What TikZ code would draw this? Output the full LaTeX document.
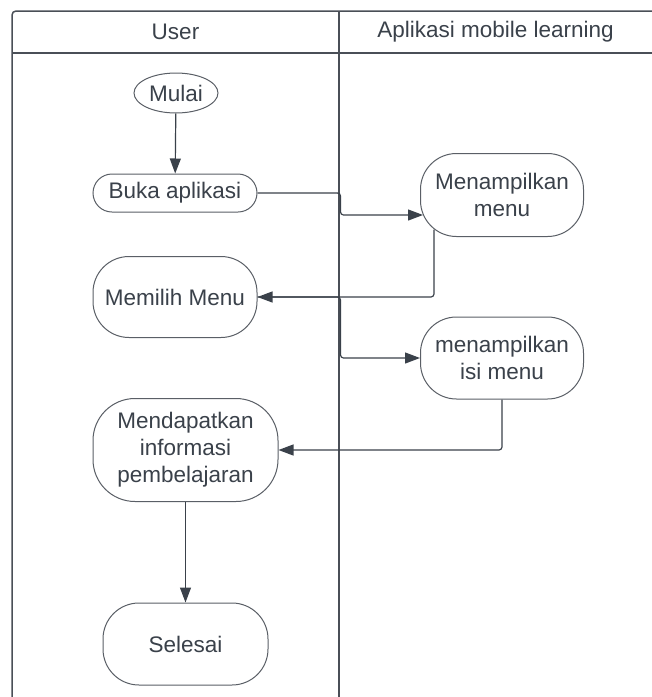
\documentclass[tikz,border=0pt]{standalone}
\usepackage{fontspec}
\setmainfont{Liberation Sans}
\usepackage{xcolor}
\usepackage{tikz}
\usetikzlibrary{shapes.geometric,arrows.meta}
\definecolor{laneline}{HTML}{4A4F57}
\definecolor{boxline}{HTML}{5A5F66}
\definecolor{inkgray}{HTML}{3A414A}

\begin{document}
\begin{tikzpicture}[
    x=1pt, y=-1pt,
    font=\fontsize{22.5}{27}\selectfont\color{inkgray},
    lane/.style={draw=laneline, line width=1.5pt},
    start/.style={ellipse, draw=boxline, line width=1pt, fill=white, inner sep=0pt, minimum width=84pt, minimum height=40pt},
    pill/.style={rectangle, rounded corners=19pt, draw=boxline, line width=1pt, fill=white, inner sep=0pt, minimum width=164pt, minimum height=38pt, align=center},
    act/.style={rectangle, rounded corners=36pt, draw=boxline, line width=1pt, fill=white, inner sep=0pt, minimum width=164pt, minimum height=81pt, align=center},
    arrow/.style={-{Triangle[length=15pt,width=11pt]}, draw=inkgray, line width=1.2pt, rounded corners=3pt}
]
    \useasboundingbox (0,0) rectangle (652,697);

    % Swimlanes
    \draw[lane, rounded corners=4pt] (12,697) |- (652,11);
    \draw[lane] (12,53) -- (652,53);
    \draw[lane] (339,11) -- (339,697);
    \node (lane_user) at (175.5,32) {User};
    \node (lane_app) at (495.5,32) {Aplikasi mobile learning};

    % User
    \node[start] (mulai) at (176,93) {Mulai};
    \node[pill] (buka_app) at (175,193) {Buka aplikasi};
    \node[act] (pilih_menu) at (175,297) {Memilih Menu};
    \node[act, minimum width=185pt, minimum height=103pt, rounded corners=42pt] (dapat_info) at (185.5,450) {Mendapatkan\\informasi\\pembelajaran};
    \node[act, minimum width=165pt, minimum height=82pt] (selesai) at (185.5,644) {Selesai};

    % Aplikasi mobile learning
    \node[act, minimum width=163pt, minimum height=83pt] (tampil_menu) at (502,195) {Menampilkan\\menu};
    \node[act, minimum width=163pt, minimum height=82pt] (tampil_isi) at (502,358) {menampilkan\\isi menu};

    % Arrows
    \draw[arrow] (mulai) -- (buka_app);
    \draw[arrow] (buka_app.east) -- ++(83,0) |- ([xshift=3pt,yshift=-20pt]tampil_menu.west);
    \draw[arrow] ([xshift=14pt,yshift=7.5pt]tampil_menu.south west) |- (pilih_menu.east);
    \draw[arrow] (pilih_menu.east) -- ++(83,0) |- (tampil_isi.west);
    \draw[arrow] (tampil_isi.south) |- (dapat_info.east);
    \draw[arrow] (dapat_info) -- (selesai);

\end{tikzpicture}
\end{document}
